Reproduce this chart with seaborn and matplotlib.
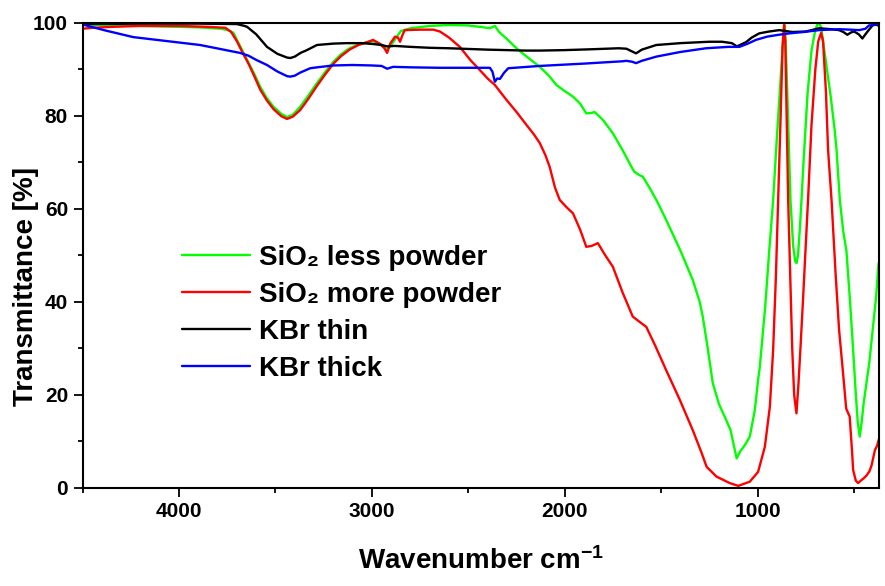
import matplotlib
matplotlib.use("Agg")
import matplotlib.pyplot as plt
from matplotlib.ticker import MultipleLocator
import pandas as pd
import seaborn as sns

# FTIR spectra, values
less_wn = [4500, 4300, 4100, 3900, 3780, 3740, 3718, 3690, 3647, 3610, 3579, 3545, 3510, 3470,
           3440, 3410, 3372, 3330, 3285, 3240, 3199, 3160, 3116, 3070, 3025, 2990, 2950, 2921,
           2895, 2870, 2850, 2800, 2700, 2600, 2500, 2420, 2388, 2362, 2340, 2300, 2250, 2200,
           2129, 2080, 2043, 2000, 1957, 1920, 1888, 1860, 1845, 1800, 1750, 1700, 1664, 1640,
           1612, 1595, 1560, 1525, 1490, 1457, 1400, 1336, 1300, 1284, 1260, 1232, 1200, 1163,
           1140, 1125, 1108, 1090, 1060, 1040, 1014, 997, 988, 960, 939, 919, 900, 880, 868,
           861, 854, 842, 829, 815, 805, 798, 790, 780, 772, 760, 740, 720, 700, 688, 680, 670,
           660, 640, 620, 600, 590, 573, 555, 539, 520, 504, 490, 480, 470, 460, 450, 435, 420,
           401, 385, 372]
less_t = [99.6, 99.4, 99.2, 99.0, 98.7, 98.3, 97.8, 95.5, 92.0, 89.0, 86.2, 83.8, 81.9, 80.4,
          79.7, 80.2, 81.9, 84.3, 87.0, 89.5, 91.6, 93.2, 94.5, 95.3, 95.8, 96.0, 95.3, 94.1,
          95.5, 97.0, 98.2, 98.8, 99.3, 99.5, 99.4, 99.0, 98.8, 99.3, 98.0, 96.5, 94.5, 92.8,
          90.5, 88.5, 86.6, 85.3, 84.1, 82.6, 80.5, 80.6, 80.8, 79.0, 76.2, 72.6, 69.8, 68.0,
          67.2, 66.9, 64.5, 61.9, 59.0, 56.1, 51.0, 44.7, 40.0, 36.8, 30.5, 22.5, 18.0, 14.6,
          12.4, 9.5, 6.3, 7.8, 9.5, 11.0, 16.7, 23.2, 26.0, 39.0, 51.1, 61.8, 75.0, 88.0, 96.0,
          100.0, 96.0, 80.0, 61.8, 52.0, 48.8, 48.3, 50.0, 56.0, 61.8, 71.0, 85.0, 94.0, 98.5,
          99.8, 99.8, 99.0, 96.0, 90.0, 84.0, 77.0, 72.6, 61.8, 55.0, 51.0, 40.0, 29.6, 20.0,
          14.0, 11.0, 14.0, 18.0, 22.5, 27.0, 34.6, 41.0, 48.3]

more_wn = [4500, 4450, 4350, 4200, 4000, 3850, 3760, 3730, 3700, 3670, 3640, 3610, 3579, 3545,
           3510, 3470, 3440, 3410, 3372, 3330, 3285, 3240, 3199, 3160, 3116, 3070, 3025, 2994,
           2960, 2935, 2921, 2905, 2880, 2865, 2854, 2840, 2829, 2750, 2681, 2647, 2600, 2544,
           2490, 2440, 2400, 2362, 2302, 2250, 2198, 2160, 2129, 2100, 2078, 2050, 2026, 1990,
           1957, 1920, 1888, 1860, 1828, 1790, 1750, 1700, 1647, 1600, 1577, 1530, 1474, 1403,
           1336, 1290, 1264, 1213, 1144, 1100, 1040, 997, 962, 936, 919, 905, 893, 880, 870,
           862, 856, 849, 841, 830, 820, 810, 798, 788, 776, 764, 750, 738, 720, 700, 685, 670,
           660, 645, 634, 616, 595, 577, 555, 540, 522, 510, 504, 490, 478, 465, 450, 435, 420,
           409, 391, 380, 370]
more_t = [98.7, 98.9, 99.1, 99.3, 99.3, 99.1, 98.9, 98.0, 96.0, 93.5, 91.2, 88.5, 85.6, 83.3,
          81.4, 79.9, 79.3, 79.8, 81.2, 83.6, 86.4, 89.0, 91.2, 92.8, 94.2, 95.2, 95.8, 96.3,
          95.5, 94.5, 93.5, 95.5, 97.0, 96.8, 95.9, 97.5, 98.4, 98.5, 98.5, 98.1, 96.8, 94.8,
          92.0, 89.8, 88.0, 86.6, 83.4, 80.8, 78.0, 76.0, 74.1, 71.5, 69.0, 64.5, 61.9, 60.3,
          59.0, 55.5, 51.8, 52.0, 52.6, 50.0, 47.5, 42.0, 36.8, 35.3, 34.6, 30.5, 25.3, 18.9,
          12.4, 7.5, 4.5, 2.4, 1.0, 0.4, 1.3, 3.4, 8.8, 17.4, 29.6, 45.0, 61.8, 80.0, 95.0,
          99.5, 96.0, 80.0, 61.8, 45.0, 30.0, 20.0, 16.0, 22.0, 31.0, 40.4, 52.0, 61.8, 78.0,
          90.0, 96.0, 97.8, 96.0, 85.0, 72.6, 61.8, 46.0, 34.0, 24.0, 17.0, 15.3, 8.0, 3.8, 1.5,
          1.0, 1.5, 2.0, 2.6, 3.5, 4.7, 8.1, 9.0, 10.5]

thin_wn = [4500, 4200, 3900, 3700, 3660, 3647, 3600, 3544, 3490, 3440, 3423, 3400, 3370, 3337,
           3285, 3200, 3130, 3050, 2990, 2950, 2921, 2880, 2800, 2700, 2600, 2400, 2200, 2129,
           2000, 1850, 1720, 1680, 1640, 1630, 1600, 1525, 1400, 1250, 1184, 1133, 1107, 1060,
           1030, 991, 940, 887, 820, 749, 700, 680, 620, 577, 555, 534, 515, 499, 475, 456, 435,
           404, 385, 370]
thin_t = [99.7, 99.8, 99.8, 99.7, 99.3, 99.1, 97.5, 94.8, 93.3, 92.5, 92.4, 92.7, 93.5, 94.1,
          95.2, 95.5, 95.6, 95.6, 95.4, 95.2, 94.9, 95.0, 94.8, 94.6, 94.5, 94.2, 94.0, 94.0,
          94.1, 94.3, 94.5, 94.4, 93.6, 93.4, 94.2, 95.2, 95.6, 95.9, 95.9, 95.6, 94.9, 95.8,
          96.8, 97.7, 98.1, 98.4, 98.0, 98.1, 98.6, 98.8, 98.6, 98.4, 98.0, 97.4, 97.9, 98.1,
          97.5, 96.6, 97.8, 99.4, 99.6, 99.3]

thick_wn = [4500, 4380, 4238, 3891, 3684, 3640, 3600, 3544, 3490, 3440, 3423, 3400, 3370, 3320,
            3284, 3200, 3100, 3000, 2950, 2921, 2890, 2800, 2647, 2500, 2388, 2375, 2362, 2350,
            2336, 2315, 2293, 2129, 1900, 1700, 1681, 1650, 1630, 1600, 1525, 1400, 1267, 1150,
            1094, 1050, 1008, 950, 890, 835, 760, 680, 577, 520, 473, 440, 422, 400, 385, 370]
thick_t = [99.6, 98.3, 96.9, 95.2, 93.5, 92.9, 92.0, 90.9, 89.5, 88.5, 88.4, 88.6, 89.3, 90.2,
           90.4, 90.8, 90.9, 90.8, 90.7, 90.1, 90.5, 90.4, 90.3, 90.3, 90.3, 89.5, 87.3, 88.0,
           87.9, 89.2, 90.2, 90.7, 91.2, 91.7, 91.8, 91.6, 91.3, 91.8, 92.7, 93.7, 94.5, 94.8,
           94.8, 95.5, 96.3, 97.0, 97.4, 97.7, 98.0, 98.4, 98.6, 98.5, 98.4, 98.7, 99.4, 99.5,
           99.7, 99.5]

labels = ["SiO\u2082 less powder", "SiO\u2082 more powder", "KBr thin", "KBr thick"]
colors = ["#00ff00", "#ff0000", "#000000", "#0000ff"]

frames = []
for name, wn, t in zip(labels, [less_wn, more_wn, thin_wn, thick_wn],
                       [less_t, more_t, thin_t, thick_t]):
    frames.append(pd.DataFrame({"wavenumber": wn, "T": t, "sample": name}))
df = pd.concat(frames, ignore_index=True)

sns.set_style("ticks")
plt.rcParams["font.family"] = ["Liberation Sans", "DejaVu Sans"]
plt.rcParams["font.weight"] = "bold"
plt.rcParams["axes.labelweight"] = "bold"
plt.rcParams["text.color"] = "black"
plt.rcParams["axes.labelcolor"] = "black"
plt.rcParams["mathtext.fontset"] = "custom"
plt.rcParams["mathtext.rm"] = "Liberation Sans:bold"
plt.rcParams["mathtext.bf"] = "Liberation Sans:bold"
plt.rcParams["mathtext.default"] = "rm"

fig = plt.figure(figsize=(8.85, 5.86), dpi=100)
ax = fig.add_axes([0.0934, 0.1677, 0.8998, 0.7936])

sns.lineplot(data=df, x="wavenumber", y="T", hue="sample", hue_order=labels,
             palette=colors, sort=False, estimator=None, linewidth=1.7,
             legend=False, ax=ax)

ax.set_xlim(4500, 370)
ax.set_ylim(0, 100)
ax.xaxis.set_major_locator(MultipleLocator(1000))
ax.xaxis.set_minor_locator(MultipleLocator(500))
ax.yaxis.set_major_locator(MultipleLocator(20))
ax.yaxis.set_minor_locator(MultipleLocator(10))

for side in ["top", "right", "bottom", "left"]:
    ax.spines[side].set_linewidth(1.5)
    ax.spines[side].set_color("black")
ax.tick_params(which="major", direction="out", length=6.5, width=1.3,
               labelsize=15, pad=4, colors="black")
ax.tick_params(which="minor", direction="out", length=3.5, width=1.3, colors="black")

ax.set_xlabel("Wavenumber cm$^{-1}$", fontsize=20, fontweight="bold", color="black")
ax.set_ylabel("Transmittance [%]", fontsize=20, fontweight="bold", color="black")
ax.xaxis.set_label_coords(0.5, -0.128)
ax.yaxis.set_label_coords(-0.055, 0.432)

ax.legend(handles=ax.get_lines(), labels=labels, loc="upper left",
          bbox_to_anchor=(0.125, 0.523), frameon=False, fontsize=20,
          handlelength=2.45, handletextpad=0.3, labelspacing=0.4,
          borderpad=0, borderaxespad=0)

fig.savefig("out.png", dpi=100)
